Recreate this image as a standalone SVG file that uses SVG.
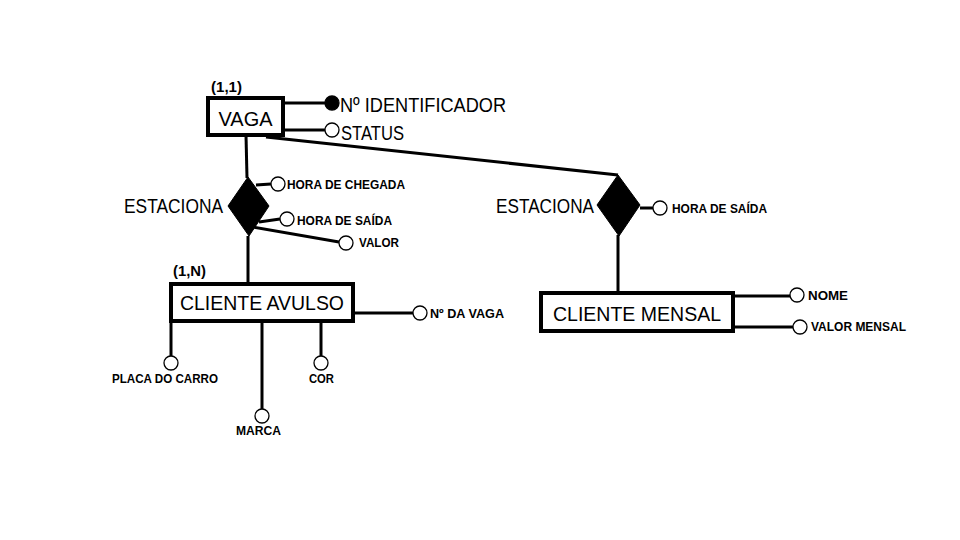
<svg xmlns="http://www.w3.org/2000/svg" width="960" height="540" viewBox="0 0 960 540">
<style>
.ent{fill:#fff;stroke:#000;stroke-width:4}
.rel{fill:#000;stroke:#000;stroke-width:1}
.ln{stroke:#000;stroke-width:3;fill:none}
.att{fill:#fff;stroke:#000;stroke-width:1.3}
.key{fill:#000;stroke:#000;stroke-width:1.3}
.big{font-family:"Liberation Sans","Open Sans",sans-serif;font-size:20px;fill:#000}
.sm{font-family:"Liberation Sans","Open Sans",sans-serif;font-size:13px;font-weight:bold;fill:#000}
.card{font-family:"Liberation Sans","Open Sans",sans-serif;font-size:14px;font-weight:bold;fill:#000}
</style>
<rect width="960" height="540" fill="#fff"/>
<g id="connectors">
<line class="ln" x1="283" y1="103" x2="326" y2="103"/>
<line class="ln" x1="283" y1="130" x2="325" y2="130"/>
<line class="ln" x1="266" y1="137" x2="618" y2="175"/>
<line class="ln" x1="246" y1="135" x2="247" y2="178"/>
<line class="ln" x1="256" y1="185" x2="271" y2="184"/>
<line class="ln" x1="259" y1="222" x2="280" y2="219"/>
<line class="ln" x1="253" y1="227" x2="339" y2="242"/>
<line class="ln" x1="248" y1="236" x2="248" y2="284"/>
<line class="ln" x1="354" y1="313" x2="413" y2="313"/>
<line class="ln" x1="171" y1="321" x2="171" y2="356"/>
<line class="ln" x1="262" y1="321" x2="262" y2="409"/>
<line class="ln" x1="321" y1="318" x2="321" y2="356"/>
<line class="ln" x1="640" y1="208" x2="653" y2="208"/>
<line class="ln" x1="618" y1="235" x2="618" y2="293"/>
<line class="ln" x1="734" y1="296" x2="790" y2="296"/>
<line class="ln" x1="734" y1="327" x2="793" y2="327"/>
</g>
<g id="vaga">
<rect class="ent" x="208" y="98" width="75" height="37"/>
<text class="big" x="245.5" y="126" text-anchor="middle" textLength="54" lengthAdjust="spacingAndGlyphs">VAGA</text>
<text class="card" x="211" y="92" textLength="31" lengthAdjust="spacingAndGlyphs">(1,1)</text>
</g>
<g id="attr-n-identificador">
<circle class="key" cx="332" cy="103" r="7"/>
<text class="big" x="340" y="112" textLength="166" lengthAdjust="spacingAndGlyphs">Nº IDENTIFICADOR</text>
</g>
<g id="attr-status">
<circle class="att" cx="332" cy="130" r="7"/>
<text class="big" x="341" y="140" textLength="63" lengthAdjust="spacingAndGlyphs">STATUS</text>
</g>
<g id="estaciona1">
<polygon class="rel" points="248,177 269,206 249,236 228,206"/>
<text class="big" x="124" y="213" textLength="99" lengthAdjust="spacingAndGlyphs">ESTACIONA</text>
</g>
<g id="attr-hora-chegada">
<circle class="att" cx="278" cy="184" r="7"/>
<text class="sm" x="287" y="189" textLength="118" lengthAdjust="spacingAndGlyphs">HORA DE CHEGADA</text>
</g>
<g id="attr-hora-saida1">
<circle class="att" cx="287" cy="219" r="7"/>
<text class="sm" x="297" y="225" textLength="95" lengthAdjust="spacingAndGlyphs">HORA DE SAÍDA</text>
</g>
<g id="attr-valor">
<circle class="att" cx="346" cy="243" r="7"/>
<text class="sm" x="359" y="247" textLength="40" lengthAdjust="spacingAndGlyphs">VALOR</text>
</g>
<g id="cliente-avulso">
<rect class="ent" x="171" y="284" width="182" height="37"/>
<text class="big" x="262" y="310" text-anchor="middle" font-size="22" textLength="164" lengthAdjust="spacingAndGlyphs">CLIENTE AVULSO</text>
<text class="card" x="173" y="276" textLength="33" lengthAdjust="spacingAndGlyphs">(1,N)</text>
</g>
<g id="attr-n-da-vaga">
<circle class="att" cx="420" cy="313" r="7"/>
<text class="sm" x="430" y="318" textLength="74" lengthAdjust="spacingAndGlyphs">Nº DA VAGA</text>
</g>
<g id="attr-placa">
<circle class="att" cx="171" cy="363" r="7"/>
<text class="sm" x="165" y="383" text-anchor="middle" textLength="106" lengthAdjust="spacingAndGlyphs">PLACA DO CARRO</text>
</g>
<g id="attr-marca">
<circle class="att" cx="262" cy="416" r="7"/>
<text class="sm" x="258.5" y="435" text-anchor="middle" textLength="45" lengthAdjust="spacingAndGlyphs">MARCA</text>
</g>
<g id="attr-cor">
<circle class="att" cx="321" cy="363" r="7"/>
<text class="sm" x="321.5" y="383" text-anchor="middle" textLength="25" lengthAdjust="spacingAndGlyphs">COR</text>
</g>
<g id="estaciona2">
<polygon class="rel" points="618,175 640,205 619,236 597,205"/>
<text class="big" x="496" y="213" textLength="98" lengthAdjust="spacingAndGlyphs">ESTACIONA</text>
</g>
<g id="attr-hora-saida2">
<circle class="att" cx="660" cy="208" r="7"/>
<text class="sm" x="672" y="213" textLength="95" lengthAdjust="spacingAndGlyphs">HORA DE SAÍDA</text>
</g>
<g id="cliente-mensal">
<rect class="ent" x="541" y="293" width="192" height="38"/>
<text class="big" x="637" y="321" text-anchor="middle" font-size="22" textLength="168" lengthAdjust="spacingAndGlyphs">CLIENTE MENSAL</text>
</g>
<g id="attr-nome">
<circle class="att" cx="797" cy="295" r="7"/>
<text class="sm" x="808" y="300" textLength="40" lengthAdjust="spacingAndGlyphs">NOME</text>
</g>
<g id="attr-valor-mensal">
<circle class="att" cx="800" cy="327" r="7"/>
<text class="sm" x="811" y="331" textLength="95" lengthAdjust="spacingAndGlyphs">VALOR MENSAL</text>
</g>
</svg>
